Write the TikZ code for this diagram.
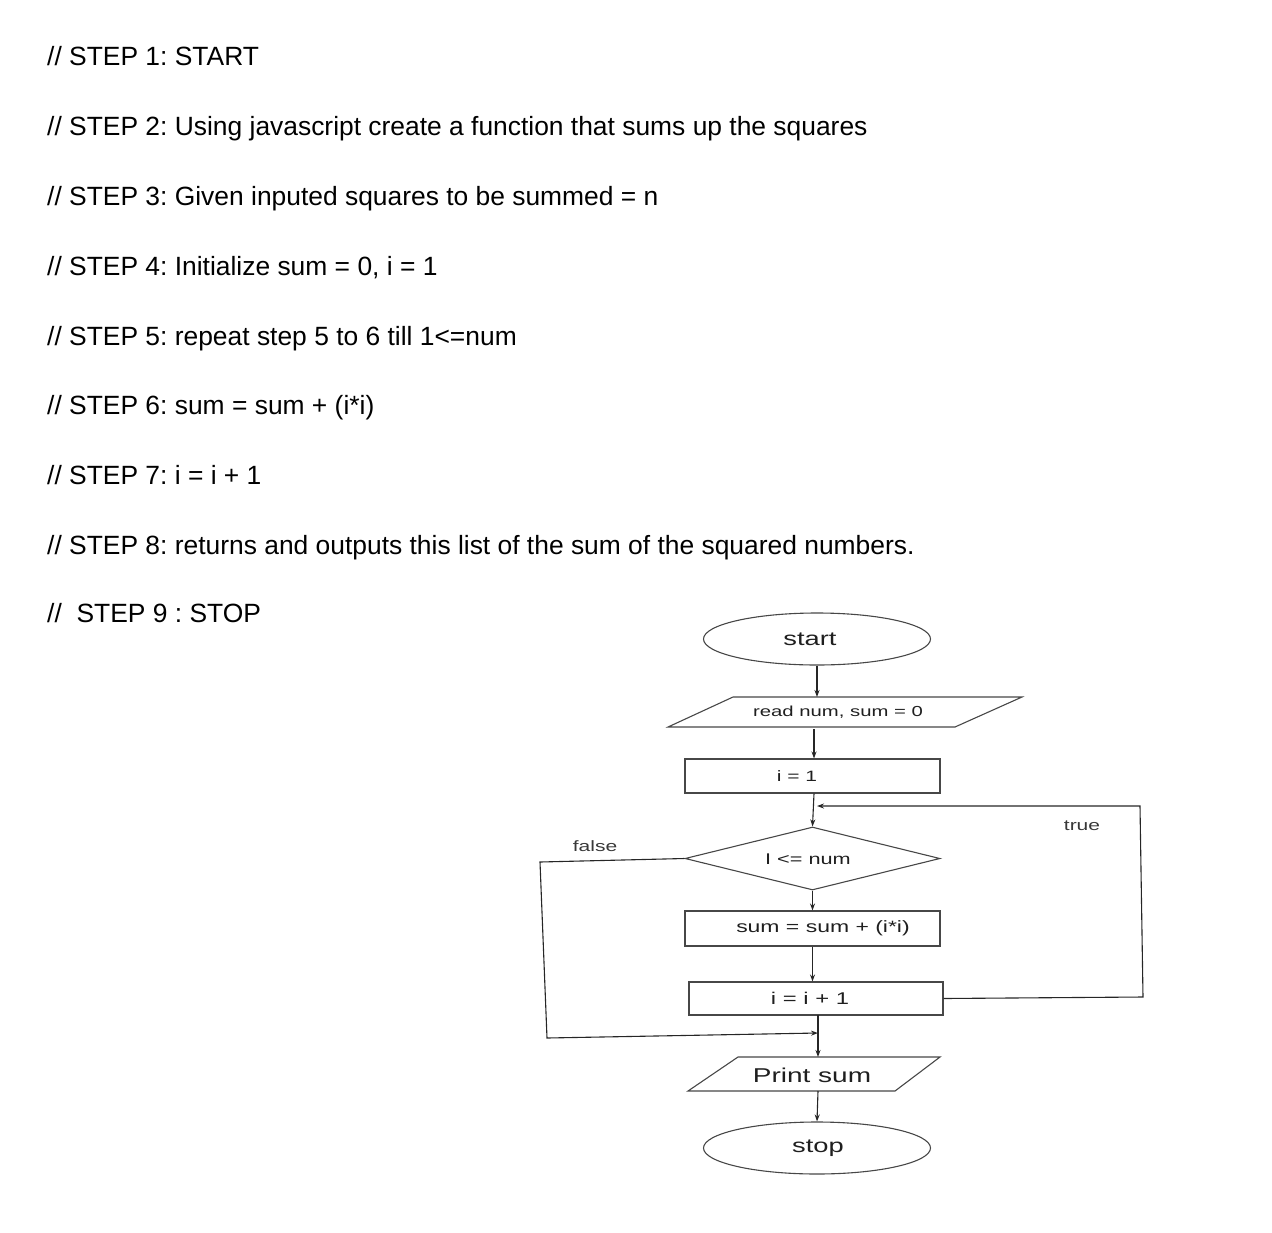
\documentclass[tikz,border=0pt]{standalone}
\usepackage{fontspec}
\setmainfont{Liberation Sans}
\newfontfamily\widefont[FakeStretch=1.4]{Liberation Sans}
\usetikzlibrary{shapes.geometric,arrows.meta}
\frenchspacing
\begin{document}
\begin{tikzpicture}[x=1pt,y=-1pt,
  steptext/.style={anchor=base west,inner sep=0pt,font=\fontsize{26.4}{30}\selectfont},
  lbl/.style={inner sep=0pt,font=\widefont\fontsize{15}{18}\selectfont,text=black!78},
  ftext/.style={inner sep=0pt,text=black!88},
  shp/.style={draw=black!72,line width=1.1pt},
  conn/.style={draw=black!85,line width=1.1pt},
  arr/.style={conn,-{Stealth[length=7pt,width=5pt]}}]
\useasboundingbox (0,0) rectangle (1272,1232);
% step lines
\node[steptext] (s1) at (47,65) {// STEP 1: START};
\node[steptext] (s2) at (47,135) {// STEP 2: Using javascript create a function that sums up the squares};
\node[steptext] (s3) at (47,205) {// STEP 3: Given inputed squares to be summed = n};
\node[steptext] (s4) at (47,275) {// STEP 4: Initialize sum = 0, i = 1};
\node[steptext] (s5) at (47,345) {// STEP 5: repeat step 5 to 6 till 1<=num};
\node[steptext] (s6) at (47,414) {// STEP 6: sum = sum + (i*i)};
\node[steptext] (s7) at (47,484) {// STEP 7: i = i + 1};
\node[steptext] (s8) at (47,554) {// STEP 8: returns and outputs this list of the sum of the squared numbers.};
\node[steptext] (s9) at (47,622) {//\ \ STEP 9 : STOP};
% flowchart
\node[shp,ellipse,minimum width=227pt,minimum height=52pt,inner sep=0pt] (start) at (817,639) {};
\node[ftext,font=\widefont\fontsize{19.5}{22}\selectfont] (startt) at (810,639) {start};
\draw[shp] (733,697) -- (1022,697) -- (955,727) -- (668,727) -- cycle;
\node[ftext,font=\widefont\fontsize{14.5}{16}\selectfont] (read) at (838,712) {read num, sum = 0};
\coordinate (readtop) at (817,697);
\coordinate (readbot) at (814,729);
\node[shp,rectangle,minimum width=255pt,minimum height=34pt,inner sep=0pt] (i1) at (812.5,776) {};
\node[ftext,font=\widefont\fontsize{15}{16}\selectfont] (i1t) at (797,776) {i = 1};
\node[shp,diamond,minimum width=255pt,minimum height=63pt,inner sep=0pt,aspect=4] (dec) at (812.5,858.5) {};
\node[ftext,font=\widefont\fontsize{15.5}{17}\selectfont] (dect) at (808,859) {I <= num};
\node[shp,rectangle,minimum width=255pt,minimum height=35pt,inner sep=0pt] (sumbox) at (812.5,928.5) {};
\node[ftext,font=\widefont\fontsize{16.4}{18}\selectfont] (sumt) at (823,928) {sum = sum + (i*i)};
\node[shp,rectangle,minimum width=254pt,minimum height=33pt,inner sep=0pt] (inc) at (816,998.5) {};
\node[ftext,font=\widefont\fontsize{17}{19}\selectfont] (inct) at (810,998) {i = i + 1};
\draw[shp] (738,1057) -- (940,1057) -- (895,1091) -- (688,1091) -- cycle;
\node[ftext,font=\widefont\fontsize{20}{22}\selectfont] (print) at (812,1075) {Print sum};
\coordinate (printtop) at (818,1057);
\coordinate (printbot) at (818,1091);
\node[shp,ellipse,minimum width=227pt,minimum height=52pt,inner sep=0pt] (stop) at (817,1148) {};
\node[ftext,font=\widefont\fontsize{19.5}{22}\selectfont] (stopt) at (818,1148) {stop};
% connectors
\draw[arr] (start.south) -- (readtop);
\draw[arr] (readbot) -- (i1.north -| readbot);
\draw[arr] (i1.south -| readbot) -- (dec.north);
\draw[arr] (dec.south) -- (sumbox.north -| dec.south);
\draw[arr] (sumbox.south -| dec.south) -- (inc.north -| dec.south);
\coordinate (merge) at (818,1033);
\draw[arr] (818,1015) -- (printtop);
\draw[arr] (printbot) -- (stop.north);
% true loop
\coordinate (tr1) at (1143,997);
\coordinate (tr2) at (1140,806);
\coordinate (trend) at (817,806);
\draw[arr] (inc.east) -- (tr1) -- (tr2) -- (trend);
\node[lbl] (truel) at (1082,826) {true};
% false branch
\coordinate (f1) at (540,862);
\coordinate (f2) at (547,1038);
\draw[arr] (dec.west) -- (f1) -- (f2) -- (merge);
\node[lbl] (falsel) at (595,846) {false};
\end{tikzpicture}
\end{document}
